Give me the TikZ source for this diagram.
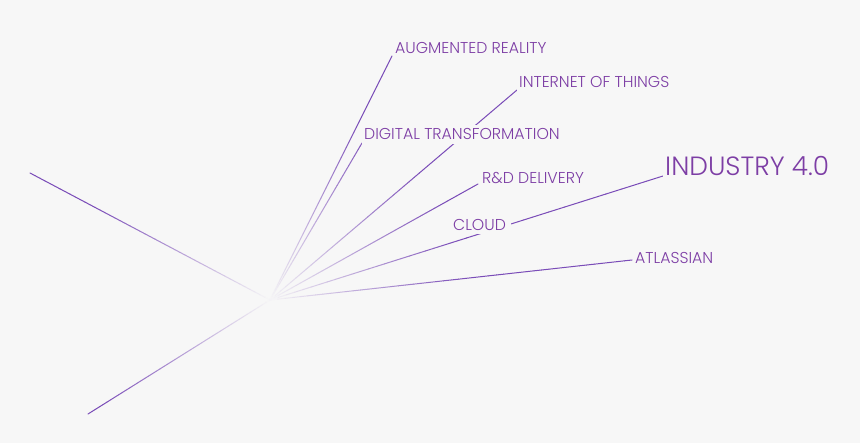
\documentclass[tikz,border=0pt]{standalone}
\usepackage{fontspec}
\IfFontExistsTF{Poppins Light}{\setmainfont{Poppins Light}}{\setmainfont{Poppins}}
\usetikzlibrary{calc}
\definecolor{bgc}{RGB}{247,247,247}
\definecolor{txt}{RGB}{125,62,165}
\definecolor{ln}{RGB}{122,76,184}
\newcommand\drawray[1]{%
  \path let \p1=($(#1)-(c)$) in \pgfextra{\pgfmathsetmacro\tmprl{veclen(\x1,\y1)}\xdef\rayL{\tmprl}};
  \foreach \i in {1,...,48}{%
    \pgfmathsetmacro\pc{min(100,((\i-0.5)/48)*(\rayL/2))}%
    \draw[ray, draw=ln!\pc!bgc] ($(c)!{(\i-1)/48}!(#1)$) -- ($(c)!{\i/48}!(#1)$);
  }%
}
\begin{document}
\begin{tikzpicture}[x=1bp,y=-1bp,
  lbl/.style={text=txt, fill=bgc, inner xsep=2bp, inner ysep=3.5bp, anchor=base west,
    font=\fontsize{15.75bp}{18bp}\selectfont},
  big/.style={font=\fontsize{26.4bp}{30bp}\selectfont},
  ray/.style={line width=1bp, line cap=round}]
\fill[bgc] (0,0) rectangle (860,443);
\useasboundingbox (0,0) rectangle (860,443);
\coordinate (c) at (270,300);
\coordinate (leftE) at (30,173);
\coordinate (botE) at (88,414);
\coordinate (arE) at (392,56);
\coordinate (dtE) at (362,143);
\coordinate (iotE) at (517,90);
\coordinate (rdE) at (478,184);
\coordinate (indE) at (663,176);
\coordinate (atE) at (632,260);
\drawray{leftE}
\drawray{botE}
\drawray{arE}
\drawray{dtE}
\drawray{iotE}
\drawray{rdE}
\drawray{indE}
\drawray{atE}
\node[lbl] (ar) at (393,53.3) {AUGMENTED REALITY};
\node[lbl] (iot) at (517,88) {INTERNET OF THINGS};
\node[lbl] (dt) at (362,140) {DIGITAL TRANSFORMATION};
\node[lbl] (rd) at (480,183.3) {R\&D DELIVERY};
\node[lbl, inner xsep=5bp] (cloud) at (448,230.7) {CLOUD};
\node[lbl, big] (ind) at (663,175.7) {INDUSTRY 4.0};
\node[lbl] (at) at (633,263.3) {ATLASSIAN};
\end{tikzpicture}
\end{document}
